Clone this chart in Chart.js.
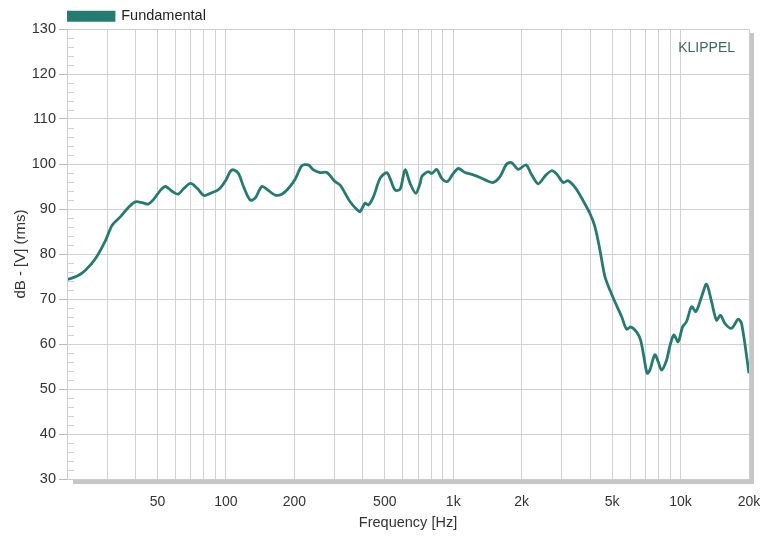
<!DOCTYPE html>
<html>
<head>
<meta charset="utf-8">
<script src="https://cdn.jsdelivr.net/npm/chart.js@4"></script>
<style>
html,body{margin:0;padding:0;background:#fff;}
#wrap{width:766px;height:536px;}
</style>
</head>
<body>
<div id="wrap"><canvas id="c" width="766" height="536"></canvas></div>
<script>
// ---- data ----
const seriesName = 'Fundamental';
const freqHz = [20,22.2,24.1,26.7,29.6,31.6,34.4,37.5,40,42.9,45.5,48.2,51.6,54.3,58.1,61.7,65.4,69.9,74.8,80,85.6,93.2,99.6,104.8,108,113.6,119.5,127.9,134.5,143.9,153.9,164.7,176.3,188.5,201.6,215.8,230.7,242.6,259.7,278,302,318,334.5,351.9,376.5,389.3,409.6,423.5,445.5,476.7,510,527,555,584,614,646,684,715,727,752,777,805,846,890,942,1001,1053,1127,1226,1312,1404,1501,1606,1719,1808,1933,2089,2213,2367,2532,2710,2849,3047,3205,3460,3731,3993,4200,4418,4647,4888,5141,5504,5787,6026,6402,6667,6894,7128,7326,7705,7967,8247,8675,8970,9342,9760,10205,10627,11180,11677,12370,13012,13687,14392,14987,15655,16757,17911,18538,20000];
const levelDb = [74.3,75.1,76.4,79.0,83.1,86.4,88.3,90.5,91.6,91.4,91.1,92.2,94.2,95.0,93.9,93.3,94.6,95.7,94.6,93.0,93.5,94.4,96.3,98.4,98.7,97.9,95.0,92.0,92.4,95.0,94.1,93.1,93.3,94.6,96.6,99.6,99.8,98.7,98.1,98.1,96.1,95.3,93.5,91.6,89.9,89.4,91.3,90.9,92.7,96.8,98.1,96.8,94.2,94.4,98.7,95.7,93.5,95.7,97.2,97.9,98.3,97.9,98.8,96.8,96.1,97.9,99.0,98.1,97.6,97.0,96.3,95.9,97.2,100.0,100.3,98.8,99.8,97.6,95.6,97.3,98.5,97.8,95.9,96.3,94.6,91.8,89.0,86.1,80.9,75.0,72.0,69.4,66.1,63.3,63.8,62.7,60.9,57.2,53.5,54.2,57.6,56.1,54.2,56.4,59.5,62.0,60.5,63.8,65.0,68.3,67.2,70.5,73.3,69.4,65.3,66.4,64.6,63.5,65.5,64.6,53.5];
const xGridHz = [20,30,40,50,60,70,80,90,100,200,300,400,500,600,700,800,900,1000,2000,3000,4000,5000,6000,7000,8000,9000,10000,20000];
const xLabelHz = [50,100,200,500,1000,2000,5000,10000,20000];
const yMin = 30, yMax = 130, yStep = 10, yMinorStep = 2;
const brandText = 'KLIPPEL';
const xTitle = 'Frequency [Hz]';
const yTitle = 'dB - [V] (rms)';

const lineColor = '#267a72';
const gridColor = '#d0d0d0';
const FONT = "'Liberation Sans', Arial, sans-serif";

const frame = {
  id: 'frame',
  beforeLayout(chart) {
    const lg = chart.legend;
    if (lg && !lg._patched) {
      const orig = lg.fit.bind(lg);
      lg.fit = function () { orig(); this.height = 20; };
      lg._patched = true;
    }
  },
  beforeDatasetsDraw(chart) {
    const {ctx, chartArea: a, scales: {y}} = chart;
    ctx.save();
    ctx.strokeStyle = '#cfcfcf';
    ctx.lineWidth = 1;
    for (let v = yMin; v <= yMax; v += yMinorStep) {
      if (v % yStep === 0) continue;
      const py = Math.round(y.getPixelForValue(v)) + 0.5;
      ctx.beginPath(); ctx.moveTo(a.left, py); ctx.lineTo(a.left + 7, py); ctx.stroke();
    }
    ctx.restore();
  },
  afterDraw(chart) {
    const {ctx, chartArea: a} = chart;
    ctx.save();
    ctx.strokeStyle = '#cccccc';
    ctx.lineWidth = 1;
    ctx.strokeRect(Math.round(a.left) + 0.5, Math.round(a.top) + 0.5, Math.round(a.right - a.left), Math.round(a.bottom - a.top));
    ctx.fillStyle = '#c6c6c6';
    ctx.fillRect(a.left + 6, a.bottom + 1, a.right - a.left - 2, 4);
    ctx.fillRect(a.right + 1, a.top + 4, 4, a.bottom - a.top + 1);
    ctx.fillStyle = '#3d6662';
    ctx.font = '14px ' + FONT;
    ctx.textAlign = 'right';
    ctx.textBaseline = 'middle';
    ctx.fillText(brandText, a.right - 14, a.top + 19);
    ctx.restore();
  }
};

new Chart(document.getElementById('c'), {
  type: 'line',
  data: {
    datasets: [{
      label: seriesName,
      data: freqHz.map((f, i) => ({x: f, y: levelDb[i]})),
      borderColor: lineColor,
      backgroundColor: lineColor,
      borderWidth: 2.8,
      pointRadius: 0,
      tension: 0.3,
      fill: false
    }]
  },
  options: {
    responsive: false,
    animation: false,
    layout: {padding: {top: 9, right: 17, left: 0, bottom: 0}},
    plugins: {
      legend: {
        display: true,
        position: 'top',
        align: 'start',
        fullSize: false,
        labels: {
          boxWidth: 47,
          boxHeight: 8,
          padding: 0,
          color: '#222',
          font: {family: FONT, size: 14.5}
        }
      },
      tooltip: {enabled: false}
    },
    scales: {
      x: {
        type: 'logarithmic',
        min: 20,
        max: 20000,
        afterBuildTicks(scale) {
          scale.ticks = xGridHz.map(v => ({value: v}));
        },
        afterFit(scale) { scale.height = 57; scale.paddingLeft = 0; scale.paddingRight = 0; },
        ticks: {
          autoSkip: false,
          maxRotation: 0,
          padding: 15,
          color: '#333',
          font: {family: FONT, size: 14},
          callback(value) {
            if (!xLabelHz.includes(value)) return '';
            return value >= 1000 ? (value / 1000) + 'k' : String(value);
          }
        },
        grid: {
          color: gridColor,
          drawTicks: false
        },
        border: {display: true, color: '#cccccc'},
        title: {
          display: true,
          text: xTitle,
          color: '#333',
          font: {family: FONT, size: 14.5},
          padding: {top: 0, bottom: 4}
        }
      },
      y: {
        type: 'linear',
        min: yMin,
        max: yMax,
        afterFit(scale) { scale.width = 67; scale.paddingTop = 0; scale.paddingBottom = 0; },
        ticks: {
          stepSize: yStep,
          padding: 3,
          color: '#333',
          font: {family: FONT, size: 14.5}
        },
        grid: {
          color: gridColor,
          tickLength: 8,
          tickColor: '#bbbbbb'
        },
        border: {display: true, color: '#cccccc'},
        title: {
          display: true,
          text: yTitle,
          color: '#333',
          font: {family: FONT, size: 15},
          padding: {top: 12, bottom: 0}
        }
      }
    }
  },
  plugins: [frame]
});
</script>
</body>
</html>
